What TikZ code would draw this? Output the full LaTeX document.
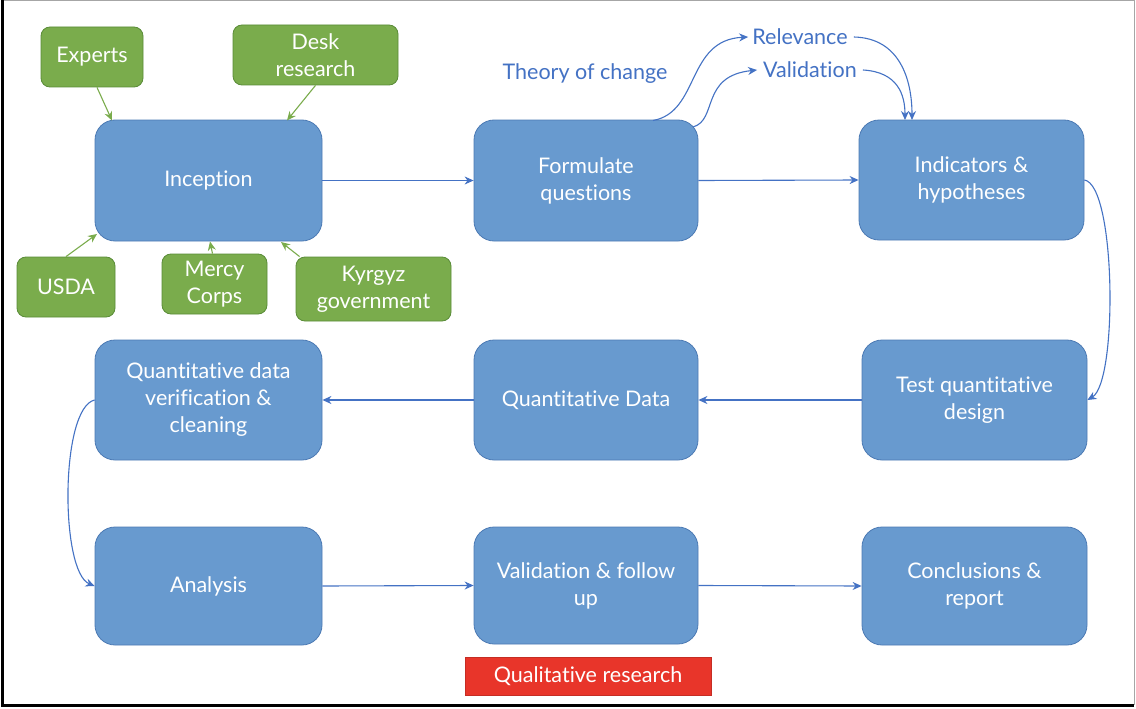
\documentclass[tikz,border=0pt]{standalone}
\usepackage{fontspec}
\setmainfont{Lato}[Ligatures=NoCommon]
\usetikzlibrary{arrows.meta}

\definecolor{stepfill}{RGB}{104,154,207}
\definecolor{stepedge}{RGB}{76,122,180}
\definecolor{srcfill}{RGB}{122,172,76}
\definecolor{srcedge}{RGB}{90,140,56}
\definecolor{flowblue}{RGB}{68,114,196}
\definecolor{qualred}{RGB}{232,53,42}

\tikzset{
  stepbox/.style={draw=stepedge, line width=0.8pt, fill=stepfill, rounded corners=20pt,
    text=white, align=center, font=\fontsize{21.5}{27}\selectfont, inner sep=0pt},
  srcbox/.style={draw=srcedge, line width=0.8pt, fill=srcfill, rounded corners=9pt,
    text=white, align=center, font=\fontsize{21.5}{27}\selectfont, inner sep=0pt},
  flow/.style={draw=flowblue, line width=1.1pt, -{Stealth[length=9pt,width=8pt]}},
  feed/.style={draw=srcfill, line width=1.1pt, -{Stealth[length=9pt,width=8pt]}},
  lbl/.style={text=flowblue, font=\fontsize{21.5}{26}\selectfont, inner sep=0pt},
}

\begin{document}
\begin{tikzpicture}[x=1pt,y=-1pt]
\useasboundingbox (0,0) rectangle (1136,709);
\fill[white] (0,0) rectangle (1136,709);
% frame
\draw[gray!70, line width=1pt] (2,0.5) -- (1134.5,0.5) -- (1134.5,705);
\draw[black, line width=3pt] (2.5,0) -- (2.5,705.5) -- (1134,705.5);

% process steps
\node[stepbox, minimum width=227pt, minimum height=121pt] (incep) at (208.5,180.5) {Inception};
\node[stepbox, minimum width=224pt, minimum height=121pt] (formq) at (586,180.5) {Formulate\\questions};
\node[stepbox, minimum width=225pt, minimum height=120pt] (indic) at (971.5,180) {Indicators \&\\hypotheses};
\node[stepbox, minimum width=225pt, minimum height=120pt] (testq) at (974.5,400) {Test quantitative\\design};
\node[stepbox, minimum width=224pt, minimum height=120pt] (qdata) at (586,400) {Quantitative Data};
\node[stepbox, minimum width=227pt, minimum height=120pt] (verif) at (208.5,400) {Quantitative data\\verification \&\\cleaning};
\node[stepbox, minimum width=227pt, minimum height=118pt] (anal) at (208.5,586) {Analysis};
\node[stepbox, minimum width=224pt, minimum height=117pt] (valid) at (586,585.5) {Validation \& follow\\up};
\node[stepbox, minimum width=225pt, minimum height=118pt] (concl) at (974.5,586) {Conclusions \&\\report};

% qualitative tag
\node[fill=qualred, draw=qualred!85!black, line width=0.5pt, minimum width=246pt, minimum height=38pt,
  text=white, font=\fontsize{21.5}{26}\selectfont, inner sep=0pt] (qual) at (588,676) {Qualitative research};

% input sources
\node[srcbox, minimum width=102pt, minimum height=60pt] (experts) at (92,57) {Experts};
\node[srcbox, minimum width=165pt, minimum height=60pt] (desk) at (315.5,55) {Desk\\research};
\node[srcbox, minimum width=98pt, minimum height=60pt] (usda) at (66,287) {USDA};
\node[srcbox, minimum width=105pt, minimum height=60pt] (mercy) at (214.5,284) {Mercy\\Corps};
\node[srcbox, minimum width=155pt, minimum height=64pt] (kyrg) at (373.5,289) {Kyrgyz\\government};

% labels
\node[lbl] (toc) at (585,74) {Theory of change};
\node[lbl] (relev) at (800,37) {Relevance};
\node[lbl] (valtxt) at (810,70) {Validation};

% feeding arrows
\draw[feed] (experts.south) ++(5,0) coordinate (e0) (e0) -- (112,120.5);
\draw[feed] (desk.south) -- (287,120.5);
\draw[feed] (usda.north) -- (97,234);
\draw[feed] (mercy.north) ++(-2,0) coordinate (m0) (m0) -- (210,241.5);
\draw[feed] (kyrg.north west) ++(4,0) coordinate (k0) (k0) -- (281,242);

% main flow
\draw[flow] (incep.east) -- (formq.west);
\draw[flow] (formq.east) -- (indic.west);
\draw[flow] (indic.east) .. controls (1116,185) and (1118,382) .. (testq.east);
\draw[flow] (testq.west) -- (qdata.east);
\draw[flow] (qdata.west) -- (verif.east);
\draw[flow] (verif.west) .. controls (60,408) and (60,572) .. (anal.west);
\draw[flow] (anal.east) -- (valid.west);
\draw[flow] (valid.east) -- (concl.west);

% theory of change loop
\coordinate (f1) at (653,120.5);
\coordinate (f2) at (693,127);
\coordinate (i1) at (912,120);
\coordinate (i2) at (905,120);
\draw[flow] (f1) .. controls (700,112) and (686,40) .. ([xshift=-4pt]relev.west);
\draw[flow] (f2) .. controls (718,120) and (700,76) .. ([xshift=-6pt]valtxt.west);
\draw[flow] ([xshift=6pt]relev.east) .. controls (900,38) and (912,80) .. (i1);
\draw[flow] ([xshift=6pt]valtxt.east) .. controls (898,72) and (905,95) .. (i2);
\end{tikzpicture}
\end{document}
